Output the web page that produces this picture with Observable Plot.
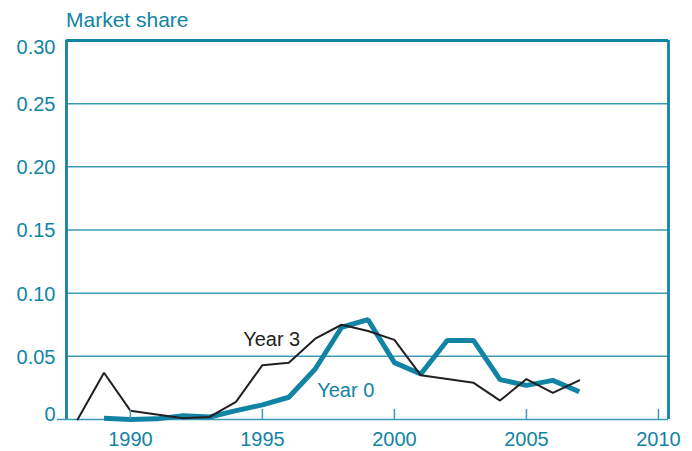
<!DOCTYPE html>
<html>
<head>
<meta charset="utf-8">
<script src="https://cdn.jsdelivr.net/npm/d3@7"></script>
<script src="https://cdn.jsdelivr.net/npm/@observablehq/plot@0.6"></script>
<style>
  body { margin: 0; background: #fff; font-family: "Liberation Sans", Arial, sans-serif; }
  #title { height: 30px; padding-left: 66px; padding-top: 9px; font-size: 21px; line-height: 21px; color: #1184a4; box-sizing: border-box; white-space: nowrap; }
</style>
</head>
<body>
<div id="title">Market share</div>
<div id="chart"></div>
<script>
const years3 = [1988, 1989, 1990, 1991, 1992, 1993, 1994, 1995, 1996, 1997, 1998, 1999, 2000, 2001, 2002, 2003, 2004, 2005, 2006, 2007];
const year3 = [0, 0.037, 0.007, 0.004, 0.001, 0.002, 0.014, 0.043, 0.045, 0.064, 0.075, 0.070, 0.063, 0.035, 0.032, 0.029, 0.015, 0.032, 0.021, 0.031];
const years0 = [1989, 1990, 1991, 1992, 1993, 1994, 1995, 1996, 1997, 1998, 1999, 2000, 2001, 2002, 2003, 2004, 2005, 2006, 2007];
const year0 = [0.001, 0, 0.0005, 0.003, 0.002, 0.007, 0.0116, 0.0176, 0.040, 0.073, 0.079, 0.045, 0.036, 0.0625, 0.0625, 0.0316, 0.027, 0.031, 0.022];
const xTicks = [1990, 1995, 2000, 2005, 2010];
const yTicksMid = [0.05, 0.10, 0.15, 0.20, 0.25];
const xDomain = [1987.58, 2010.38];
const yDomain = [0, 0.30];

const teal = "#1184a4";
const grid = "#3d9bb8";
const fmt = d => d === 0 ? "0" : d.toFixed(2);

const d3data = years3.map((y, i) => ({year: y, v: year3[i]}));
const d0data = years0.map((y, i) => ({year: y, v: year0[i]}));

const chart = Plot.plot({
  width: 692,
  height: 421,
  marginLeft: 66,
  marginRight: 24,
  marginTop: 10,
  marginBottom: 32,
  style: { fontFamily: "'Liberation Sans', Arial, sans-serif", fontSize: "20px", color: teal, background: "#fff" },
  x: { domain: xDomain },
  y: { domain: yDomain },
  marks: [
    Plot.ruleY(yTicksMid, { stroke: grid, strokeWidth: 1.5 }),
    Plot.ruleY([yDomain[0]], { stroke: grid, strokeWidth: 1.5, insetLeft: -9 }),
    Plot.ruleY([yDomain[1]], { stroke: teal, strokeWidth: 2.8 }),
    Plot.ruleX(xDomain, { stroke: teal, strokeWidth: 2.8 }),
    Plot.axisX({ ticks: xTicks, tickSize: 0, tickPadding: 12, tickFormat: d => String(d), label: null, fill: teal }),
    Plot.axisY({ ticks: yTicksMid, tickSize: 0, tickPadding: 11, tickFormat: fmt, label: null, fill: teal, dy: 1 }),
    Plot.axisY({ ticks: [yDomain[1]], tickSize: 0, tickPadding: 11, tickFormat: fmt, label: null, fill: teal, dy: 7 }),
    Plot.axisY({ ticks: [yDomain[0]], tickSize: 0, tickPadding: 11, tickFormat: fmt, label: null, fill: teal, dy: -5 }),
    Plot.line(d0data, { x: "year", y: "v", stroke: teal, strokeWidth: 5, strokeLinejoin: "miter", strokeLinecap: "butt" }),
    Plot.line(d3data, { x: "year", y: "v", stroke: "#231f20", strokeWidth: 2, strokeLinejoin: "miter" }),
    Plot.ruleX(xTicks, { x: d => d, y1: 0, y2: 0, insetTop: -10, stroke: grid, strokeWidth: 1.5 }),
    Plot.text(d3data.filter(d => d.year === 1997), { x: "year", y: "v", text: () => "Year 3", textAnchor: "end", dx: -15, dy: 1, fill: "#231f20", fontSize: 20 }),
    Plot.text(d0data.filter(d => d.year === 1997), { x: "year", y: "v", text: () => "Year 0", textAnchor: "start", dx: 2, dy: 22, fill: teal, fontSize: 20 })
  ]
});
document.getElementById("chart").appendChild(chart);
</script>
</body>
</html>
